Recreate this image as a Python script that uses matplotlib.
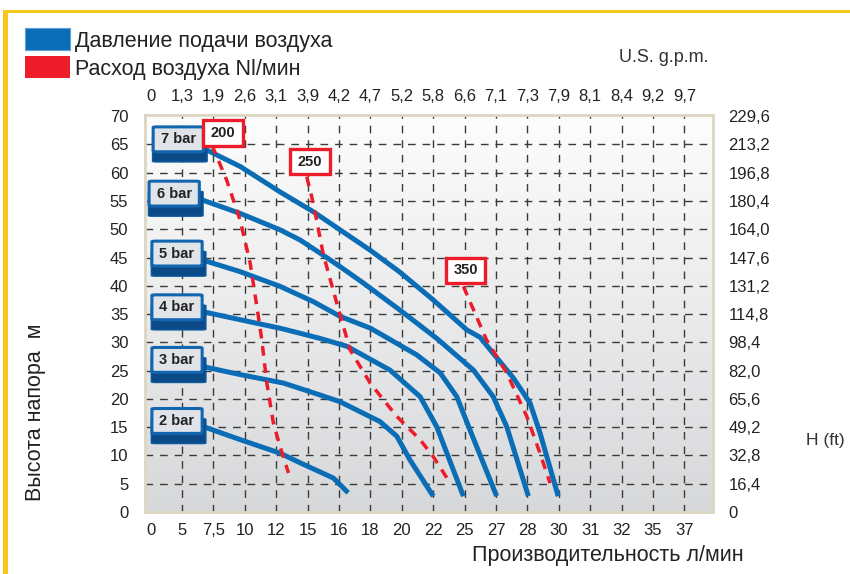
import numpy as np
import matplotlib
matplotlib.use("Agg")
import matplotlib.pyplot as plt
from matplotlib.patches import Rectangle, FancyBboxPatch
from matplotlib.colors import LinearSegmentedColormap

plt.rcParams['font.family'] = ['Liberation Sans', 'DejaVu Sans']

# x axis is categorical: equally spaced ticks with these labels
flow_labels = ["0", "5", "7,5", "10", "12", "15", "16", "18", "20", "22",
               "25", "27", "28", "30", "31", "32", "35", "37"]
gpm_labels = ["0", "1,3", "1,9", "2,6", "3,1", "3,9", "4,2", "4,7", "5,2", "5,8",
              "6,6", "7,1", "7,3", "7,9", "8,1", "8,4", "9,2", "9,7"]
head_m = [0, 5, 10, 15, 20, 25, 30, 35, 40, 45, 50, 55, 60, 65, 70]
head_ft = ["0", "16,4", "32,8", "49,2", "65,6", "82,0", "98,4", "114,8", "131,2",
           "147,6", "164,0", "180,4", "196,8", "213,2", "229,6"]

# pressure curves (x = position on the flow scale, y = head in m)
bar7_x = [1.68, 2.85, 4.12, 5.18, 6.03, 6.99, 7.94, 9.0, 10.07, 10.49, 11.55, 12.08, 12.4, 12.98]
bar7_y = [64.3, 61.1, 56.6, 53.1, 49.9, 46.3, 42.4, 37.5, 32.2, 30.9, 23.7, 19.3, 14.0, 2.8]
bar6_x = [1.63, 2.85, 4.12, 4.76, 5.39, 6.03, 6.77, 7.94, 9.11, 10.28, 10.91, 11.34, 12.03]
bar6_y = [55.2, 52.8, 49.9, 48.1, 45.8, 43.4, 40.5, 35.7, 30.7, 25.1, 20.4, 15.1, 2.8]
bar5_x = [1.63, 2.85, 4.12, 5.18, 6.03, 7.0, 8.47, 9.22, 9.75, 10.17, 11.02]
bar5_y = [44.6, 42.5, 39.9, 37.2, 34.6, 32.5, 27.8, 24.6, 20.4, 14.5, 2.8]
bar4_x = [1.68, 2.85, 4.12, 4.76, 5.39, 6.25, 7.62, 8.58, 9.11, 9.96]
bar4_y = [35.4, 34.0, 32.5, 31.6, 30.7, 29.3, 25.1, 20.4, 15.1, 2.8]
bar3_x = [1.68, 2.85, 4.23, 5.39, 6.03, 7.3, 7.84, 8.26, 9.0]
bar3_y = [25.7, 24.3, 22.8, 20.7, 19.5, 16.0, 13.4, 9.2, 2.8]
bar2_x = [1.68, 2.85, 4.12, 4.76, 5.82, 6.29]
bar2_y = [15.1, 12.8, 10.4, 8.7, 6.0, 3.4]

# air consumption lines (Nl/min)
air200_x = [1.95, 2.42, 2.85, 3.17, 3.43, 3.54, 3.7, 3.91, 4.12, 4.39]
air200_y = [64.9, 58.7, 51.6, 44.0, 34.6, 30.4, 22.8, 15.7, 11.6, 6.9]
air250_x = [4.97, 5.18, 5.5, 5.93, 6.35, 6.99, 7.84, 8.58, 9.0, 9.54]
air250_y = [59.3, 54.6, 45.5, 36.9, 28.7, 22.8, 16.9, 12.8, 9.8, 5.1]
air350_x = [9.96, 10.7, 11.34, 11.98, 12.4, 12.72]
air350_y = [39.9, 30.4, 24.6, 16.9, 10.4, 5.1]

bar_curves = [(bar7_x, bar7_y), (bar6_x, bar6_y), (bar5_x, bar5_y),
              (bar4_x, bar4_y), (bar3_x, bar3_y), (bar2_x, bar2_y)]
bar_names = ["7 bar", "6 bar", "5 bar", "4 bar", "3 bar", "2 bar"]
bar_box_top = [68.1, 58.5, 47.9, 38.4, 29.1, 18.3]
bar_box_left = [0.08, -0.05, 0.04, 0.04, 0.04, 0.04]

air_curves = [(air200_x, air200_y), (air250_x, air250_y), (air350_x, air350_y)]
air_names = ["200", "250", "350"]
air_box = [(1.67, 64.8), (4.44, 59.7), (9.4, 40.5)]

BLUE = "#0a6db5"
DARKBLUE = "#0b4a87"
RED = "#ec1c2a"
W, H = 850, 574

fig = plt.figure(figsize=(8.5, 5.74), dpi=100)


def fx(px):
    return px / W


def fy(py):
    return 1 - py / H


# yellow frame
fig.patches.append(Rectangle((fx(3), fy(574)), fx(5), fy(10) - fy(574),
                             transform=fig.transFigure, fc="#f7c81c", ec="none"))
fig.patches.append(Rectangle((fx(3), fy(12.7)), 1, fy(10) - fy(12.7),
                             transform=fig.transFigure, fc="#f7c81c", ec="none"))

ax = fig.add_axes([fx(145), fy(512), fx(713) - fx(145), fy(115) - fy(512)])
xlim = (-0.18, 17.91)
ylim = (0, 70.2)
ax.set_xlim(*xlim)
ax.set_ylim(*ylim)

# background gradient
cmap = LinearSegmentedColormap.from_list("bg", ["#fdfdfd", "#d7d8da"])
ax.imshow(np.linspace(0, 1, 256)[:, None], extent=[*xlim, *ylim], aspect="auto",
          cmap=cmap, zorder=0)

for i in range(1, len(flow_labels)):
    ax.axvline(i, color="#3a3a3a", lw=1.0, ls=(0, (5.5, 5)), zorder=1)
for h in head_m[1:-1]:
    ax.axhline(h, color="#3a3a3a", lw=1.0, ls=(0, (5.5, 5)), zorder=1)

for x, y in bar_curves:
    ax.plot(x, y, color=BLUE, lw=3.6, solid_capstyle="butt", zorder=3)
for x, y in air_curves:
    ax.plot(x, y, color=RED, lw=2.5, ls=(0, (2.8, 2.2)), zorder=4)

# pressure label boxes
bw, bh = 1.6, 4.4
for name, top, left in zip(bar_names, bar_box_top, bar_box_left):
    ax.add_patch(FancyBboxPatch((left - 0.02, top - bh - 1.8), bw + 0.14, bh,
                                boxstyle="round,pad=0,rounding_size=0.12",
                                fc=DARKBLUE, ec="#0d5a9e", lw=1.0, zorder=5))
    ax.add_patch(FancyBboxPatch((left, top - bh), bw, bh,
                                boxstyle="round,pad=0,rounding_size=0.12",
                                fc="#e0e3e7", ec="#1266b0", lw=2.2, zorder=6))
    ax.text(left + bw / 2, top - bh / 2, name, ha="center", va="center",
            fontsize=10.5, fontweight="bold", color="#222222", zorder=7)

# air consumption label boxes
for name, (x0, y0) in zip(air_names, air_box):
    ax.add_patch(Rectangle((x0, y0), 1.26, 4.5, fc="white", ec=RED, lw=2.4, zorder=6))
    ax.text(x0 + 0.63, y0 + 2.25, name, ha="center", va="center",
            fontsize=10.5, fontweight="bold", color="#222222", zorder=7)

for s in ax.spines.values():
    s.set_color("#dcd6c2")
    s.set_linewidth(2)

ax.set_xticks(range(len(flow_labels)), labels=flow_labels)
ax.set_yticks(head_m)
ax.tick_params(axis="x", length=0, pad=8, labelsize=12, labelcolor="#222222")
ax.tick_params(axis="y", length=0, pad=12, labelsize=12, labelcolor="#222222")

top = ax.secondary_xaxis("top")
top.set_xticks(range(len(gpm_labels)), labels=gpm_labels)
top.tick_params(length=0, pad=8, labelsize=12, labelcolor="#222222")
top.spines["top"].set_visible(False)

right = ax.secondary_yaxis("right")
right.set_yticks(head_m, labels=head_ft)
right.tick_params(length=0, pad=11, labelsize=12, labelcolor="#222222")
right.spines["right"].set_visible(False)

# legend
fig.patches.append(Rectangle((fx(25), fy(50)), fx(45), fy(28) - fy(50),
                             transform=fig.transFigure, fc=BLUE, ec="#5aa0dc", lw=0.8))
fig.patches.append(Rectangle((fx(25), fy(78)), fx(45), fy(56) - fy(78),
                             transform=fig.transFigure, fc=RED, ec="none"))
fig.text(fx(75), fy(41), "Давление подачи воздуха", fontsize=15.5, color="#222222",
         va="center", ha="left")
fig.text(fx(75), fy(69), "Расход воздуха Nl/мин", fontsize=15.5, color="#222222",
         va="center", ha="left")

fig.text(fx(664), fy(58), "U.S. g.p.m.", fontsize=13, color="#333333",
         ha="center", va="center")
fig.text(fx(825), fy(440), "H (ft)", fontsize=12.5, color="#333333",
         ha="center", va="center")
fig.text(fx(608), fy(555), "Производительность л/мин", fontsize=15.5, color="#222222",
         ha="center", va="center")
fig.text(fx(36), fy(412), "Высота напора  м", fontsize=15.5, color="#222222",
         ha="center", va="center", rotation=90)

fig.savefig("out.png", dpi=100)
